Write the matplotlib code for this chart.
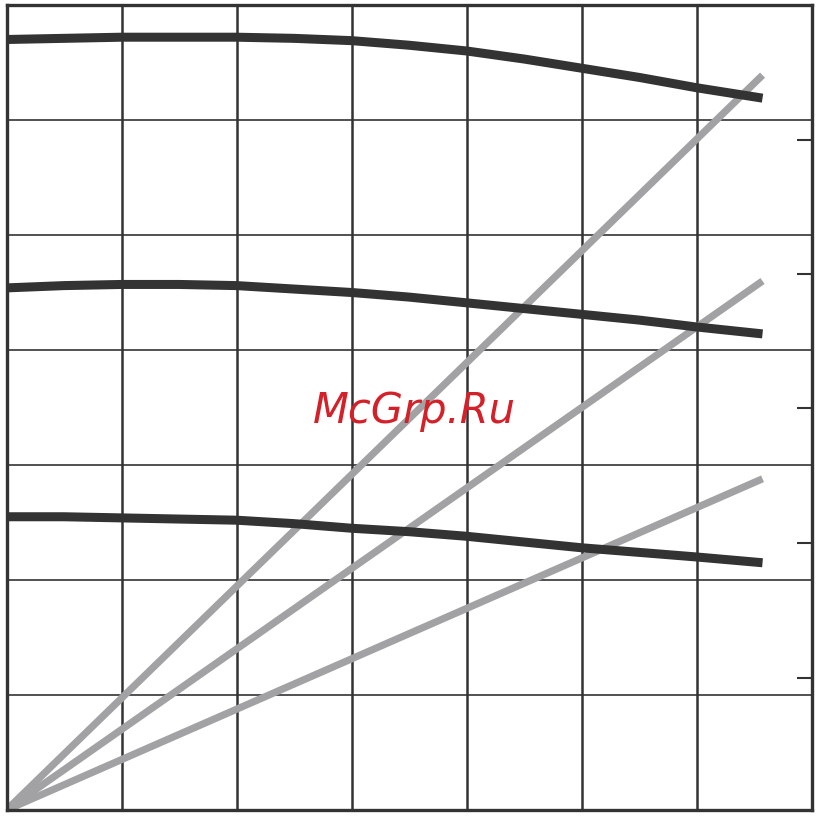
import matplotlib
matplotlib.use('Agg')
import matplotlib.pyplot as plt

# x positions (grid units) where the curves were read
x_pts = [0, 0.5, 1, 1.5, 2, 2.5, 3, 3.5, 4, 4.5, 5, 5.5, 6, 6.57]

top_curve = [6.70, 6.71, 6.72, 6.72, 6.72, 6.71, 6.69, 6.65, 6.60, 6.53, 6.45, 6.37, 6.28, 6.19]
mid_curve = [4.54, 4.56, 4.57, 4.57, 4.56, 4.53, 4.50, 4.46, 4.41, 4.36, 4.31, 4.26, 4.20, 4.14]
low_curve = [2.55, 2.55, 2.54, 2.53, 2.52, 2.49, 2.45, 2.42, 2.38, 2.33, 2.28, 2.24, 2.20, 2.15]

# straight gray lines from origin
ray_x = [0, 6.57]
ray_steep = [0, 6.39]
ray_mid = [0, 4.60]
ray_flat = [0, 2.88]

right_ticks = [1.15, 2.32, 3.50, 4.66, 5.83]

dark = '#333333'
gray = '#a2a2a5'

fig = plt.figure(figsize=(8.18, 8.18), dpi=100)
ax = fig.add_axes([6.5 / 818, 8 / 818, 805.5 / 818, 805 / 818])
ax.set_xlim(0, 7)
ax.set_ylim(0, 7)

for v in range(1, 7):
    ax.axvline(v, color=dark, lw=1.8, zorder=1)
    ax.axhline(v, color=dark, lw=1.2, zorder=1)

for ry in (ray_steep, ray_mid, ray_flat):
    ax.plot(ray_x, ry, color=gray, lw=5.2, solid_capstyle='butt', zorder=2)

for cy in (top_curve, mid_curve, low_curve):
    ax.plot(x_pts, cy, color=dark, lw=6.5, solid_capstyle='butt',
            solid_joinstyle='round', zorder=3)

for sp in ax.spines.values():
    sp.set_color(dark)
    sp.set_linewidth(2.4)

ax.set_xticks([])
ax.set_yticks([])
ax2 = ax.twinx()
ax2.set_ylim(0, 7)
ax2.set_yticks(right_ticks)
ax2.tick_params(axis='y', direction='in', length=11, width=1.5, color=dark, labelright=False)
for sp in ax2.spines.values():
    sp.set_visible(False)

fig.text(0.507, 0.497, 'McGrp.Ru', color='#d42028', fontsize=30, style='italic',
         ha='center', va='center', zorder=10)

fig.savefig('out.png', dpi=100)
